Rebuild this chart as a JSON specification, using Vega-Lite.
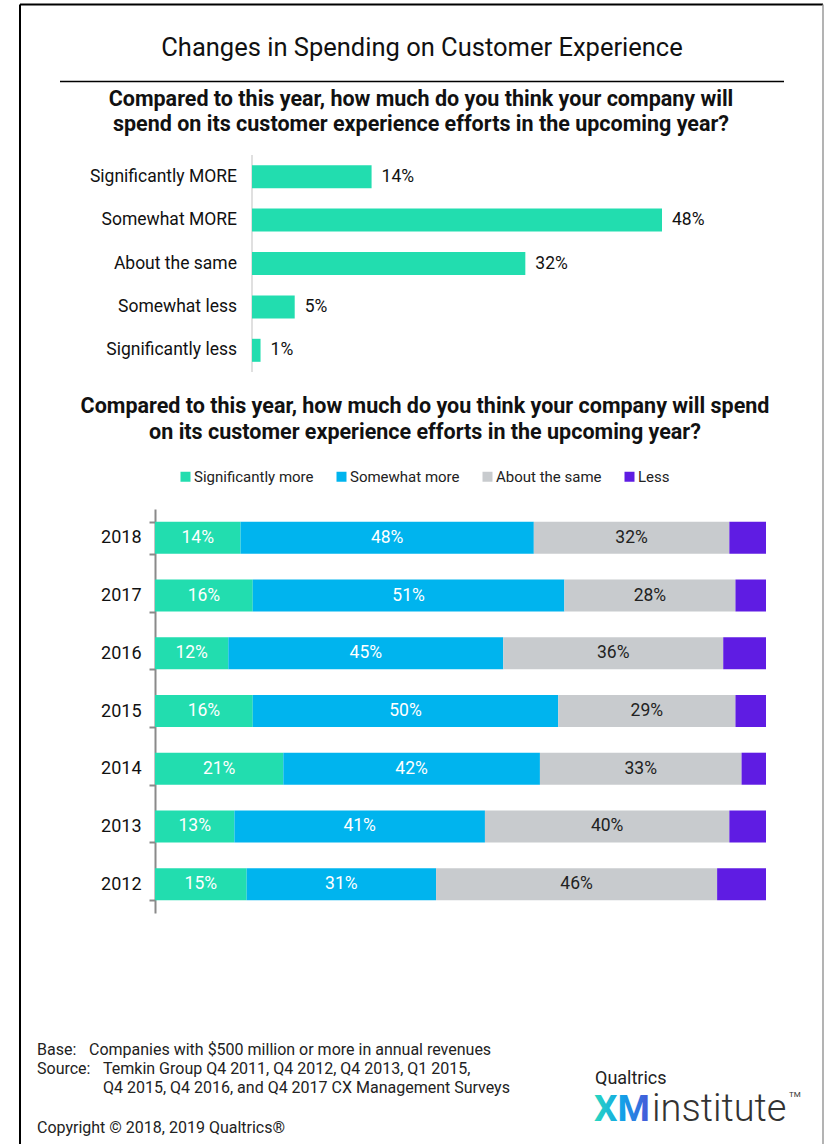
{
  "$schema": "https://vega.github.io/schema/vega-lite/v6.json",
  "autosize": {"type": "pad"},
  "padding": {"left": 19, "top": 0, "right": 1, "bottom": 0},
  "background": "white",
  "bounds": "flush",
  "spacing": 137,
  "config": {"view": {"stroke": null}, "font": "Roboto"},
  "vconcat": [
    {
      "width": 611,
      "height": 18,
      "data": {"values": [{}]},
      "layer": [
        {
          "mark": {"type": "rule", "stroke": "#000", "strokeWidth": 2},
          "encoding": {
            "x": {"datum": 20, "type": "quantitative", "scale": {"domain": [155, 766], "nice": false, "zero": false}, "axis": null},
            "y": {"datum": 4.5, "type": "quantitative", "scale": {"domain": [0, 18], "reverse": true, "nice": false, "zero": false}, "axis": null},
            "y2": {"datum": 1144}
          }
        },
        {
          "mark": {"type": "rule", "stroke": "#000", "strokeWidth": 2},
          "encoding": {
            "x": {"datum": 20, "type": "quantitative"},
            "x2": {"datum": 823},
            "y": {"datum": 4.5, "type": "quantitative"}
          }
        },
        {
          "mark": {"type": "rule", "stroke": "#9a9a9a", "strokeWidth": 1.5},
          "encoding": {
            "x": {"datum": 823, "type": "quantitative"},
            "y": {"datum": 4.5, "type": "quantitative"},
            "y2": {"datum": 1144}
          }
        },
        {
          "mark": {"type": "rule", "stroke": "#000", "strokeWidth": 1.5},
          "encoding": {
            "x": {"datum": 60, "type": "quantitative"},
            "x2": {"datum": 784},
            "y": {"datum": 81.5, "type": "quantitative"}
          }
        },
        {
          "mark": {"type": "text", "text": "Changes in Spending on Customer Experience", "fontSize": 25.5, "align": "center", "baseline": "middle", "color": "#111"},
          "encoding": {"x": {"datum": 422, "type": "quantitative"}, "y": {"datum": 48, "type": "quantitative"}}
        },
        {
          "mark": {"type": "text", "text": ["Compared to this year, how much do you think your company will", "spend on its customer experience efforts in the upcoming year?"], "fontSize": 21.5, "fontWeight": "bold", "lineHeight": 25.5, "align": "center", "baseline": "middle", "color": "#111"},
          "encoding": {"x": {"datum": 421, "type": "quantitative"}, "y": {"datum": 99.5, "type": "quantitative"}}
        },
        {
          "mark": {"type": "text", "text": ["Compared to this year, how much do you think your company will spend", "on its customer experience efforts in the upcoming year?"], "fontSize": 21.5, "fontWeight": "bold", "lineHeight": 26, "align": "center", "baseline": "middle", "color": "#111"},
          "encoding": {"x": {"datum": 425, "type": "quantitative"}, "y": {"datum": 407, "type": "quantitative"}}
        },
        {
          "mark": {"type": "text", "text": "Base:", "fontSize": 16, "align": "left", "baseline": "middle", "color": "#222"},
          "encoding": {"x": {"datum": 37, "type": "quantitative"}, "y": {"datum": 1050, "type": "quantitative"}}
        },
        {
          "mark": {"type": "text", "text": "Companies with $500 million or more in annual revenues", "fontSize": 16, "align": "left", "baseline": "middle", "color": "#222"},
          "encoding": {"x": {"datum": 89, "type": "quantitative"}, "y": {"datum": 1050, "type": "quantitative"}}
        },
        {
          "mark": {"type": "text", "text": "Source:", "fontSize": 16, "align": "left", "baseline": "middle", "color": "#222"},
          "encoding": {"x": {"datum": 37, "type": "quantitative"}, "y": {"datum": 1069, "type": "quantitative"}}
        },
        {
          "mark": {"type": "text", "text": ["Temkin Group Q4 2011, Q4 2012, Q4 2013, Q1 2015,", "Q4 2015, Q4 2016, and Q4 2017 CX Management Surveys"], "fontSize": 16, "lineHeight": 19, "align": "left", "baseline": "middle", "color": "#222"},
          "encoding": {"x": {"datum": 103, "type": "quantitative"}, "y": {"datum": 1069, "type": "quantitative"}}
        },
        {
          "mark": {"type": "text", "text": "Copyright © 2018, 2019 Qualtrics®", "fontSize": 16, "align": "left", "baseline": "middle", "color": "#222"},
          "encoding": {"x": {"datum": 37, "type": "quantitative"}, "y": {"datum": 1128, "type": "quantitative"}}
        },
        {
          "mark": {"type": "text", "text": "Qualtrics", "fontSize": 18, "align": "left", "baseline": "middle", "color": "#222"},
          "encoding": {"x": {"datum": 595, "type": "quantitative"}, "y": {"datum": 1079, "type": "quantitative"}}
        },
        {
          "mark": {"type": "text", "text": "XM", "fontSize": 37, "fontWeight": "bold", "align": "left", "baseline": "alphabetic",
                   "color": {"gradient": "linear", "stops": [{"offset": 0, "color": "#2ad8bf"}, {"offset": 0.5, "color": "#12a3e8"}, {"offset": 1, "color": "#4a52d8"}]}},
          "encoding": {"x": {"datum": 594, "type": "quantitative"}, "y": {"datum": 1121, "type": "quantitative"}}
        },
        {
          "mark": {"type": "text", "text": "institute", "fontSize": 38, "fontWeight": 300, "align": "left", "baseline": "alphabetic", "color": "#333"},
          "encoding": {"x": {"datum": 652, "type": "quantitative"}, "y": {"datum": 1121, "type": "quantitative"}}
        },
        {
          "mark": {"type": "text", "text": "TM", "fontSize": 8, "align": "left", "baseline": "middle", "color": "#333"},
          "encoding": {"x": {"datum": 789, "type": "quantitative"}, "y": {"datum": 1095, "type": "quantitative"}}
        }
      ]
    },
    {
      "width": 611,
      "height": 217,
      "data": {"values": [
        {"response": "Significantly MORE", "pct": 0.14},
        {"response": "Somewhat MORE", "pct": 0.48},
        {"response": "About the same", "pct": 0.32},
        {"response": "Somewhat less", "pct": 0.05},
        {"response": "Significantly less", "pct": 0.01}
      ]},
      "layer": [
        {
          "data": {"values": [{}]},
          "mark": {"type": "rule", "stroke": "#d6d6d6", "strokeWidth": 1.5},
          "encoding": {
            "x": {"datum": 0, "type": "quantitative", "scale": {"domain": [-0.11356, 0.60176], "nice": false, "zero": false}, "axis": null}
          }
        },
        {
          "mark": {"type": "bar", "color": "#22ddaf"},
          "encoding": {
            "y": {"field": "response", "type": "nominal", "sort": null, "scale": {"paddingInner": 0.47, "paddingOuter": 0.235}, "axis": null},
            "x": {"field": "pct", "type": "quantitative"},
            "x2": {"datum": 0}
          }
        },
        {
          "mark": {"type": "text", "align": "left", "baseline": "middle", "dx": 10, "fontSize": 17.5, "color": "#111"},
          "encoding": {
            "y": {"field": "response", "type": "nominal", "sort": null},
            "x": {"field": "pct", "type": "quantitative"},
            "text": {"field": "pct", "type": "quantitative", "format": ".0%"}
          }
        },
        {
          "mark": {"type": "text", "align": "right", "baseline": "middle", "dx": -15, "fontSize": 17.5, "color": "#111"},
          "encoding": {
            "y": {"field": "response", "type": "nominal", "sort": null},
            "x": {"datum": 0, "type": "quantitative"},
            "text": {"field": "response", "type": "nominal"}
          }
        }
      ]
    },
    {
      "width": 611,
      "height": 404,
      "data": {"values": [
        {"year": "2018", "answer": "Significantly more", "share": 0.14},
        {"year": "2018", "answer": "Somewhat more", "share": 0.48},
        {"year": "2018", "answer": "About the same", "share": 0.32},
        {"year": "2018", "answer": "Less", "share": 0.06},
        {"year": "2017", "answer": "Significantly more", "share": 0.16},
        {"year": "2017", "answer": "Somewhat more", "share": 0.51},
        {"year": "2017", "answer": "About the same", "share": 0.28},
        {"year": "2017", "answer": "Less", "share": 0.05},
        {"year": "2016", "answer": "Significantly more", "share": 0.12},
        {"year": "2016", "answer": "Somewhat more", "share": 0.45},
        {"year": "2016", "answer": "About the same", "share": 0.36},
        {"year": "2016", "answer": "Less", "share": 0.07},
        {"year": "2015", "answer": "Significantly more", "share": 0.16},
        {"year": "2015", "answer": "Somewhat more", "share": 0.50},
        {"year": "2015", "answer": "About the same", "share": 0.29},
        {"year": "2015", "answer": "Less", "share": 0.05},
        {"year": "2014", "answer": "Significantly more", "share": 0.21},
        {"year": "2014", "answer": "Somewhat more", "share": 0.42},
        {"year": "2014", "answer": "About the same", "share": 0.33},
        {"year": "2014", "answer": "Less", "share": 0.04},
        {"year": "2013", "answer": "Significantly more", "share": 0.13},
        {"year": "2013", "answer": "Somewhat more", "share": 0.41},
        {"year": "2013", "answer": "About the same", "share": 0.40},
        {"year": "2013", "answer": "Less", "share": 0.06},
        {"year": "2012", "answer": "Significantly more", "share": 0.15},
        {"year": "2012", "answer": "Somewhat more", "share": 0.31},
        {"year": "2012", "answer": "About the same", "share": 0.46},
        {"year": "2012", "answer": "Less", "share": 0.08}
      ]},
      "transform": [
        {"lookup": "answer", "from": {"data": {"values": [
          {"answer": "Significantly more", "rank": 1},
          {"answer": "Somewhat more", "rank": 2},
          {"answer": "About the same", "rank": 3},
          {"answer": "Less", "rank": 4}
        ]}, "key": "answer", "fields": ["rank"]}}
      ],
      "encoding": {
        "y": {"field": "year", "type": "ordinal", "sort": "descending",
              "scale": {"paddingInner": 0.445, "paddingOuter": 0.2225},
              "axis": {"title": null, "domainColor": "#8a8a8a", "domainWidth": 2, "tickColor": "#8a8a8a", "tickWidth": 2, "tickSize": 6, "tickBand": "extent", "labelFontSize": 18, "labelColor": "#111", "labelPadding": 8, "labelFont": "Roboto"}}
      },
      "layer": [
        {
          "mark": {"type": "bar"},
          "encoding": {
            "x": {"field": "share", "type": "quantitative", "stack": "zero", "scale": {"domain": [0, 1], "nice": false}, "axis": null},
            "order": {"field": "rank", "type": "quantitative", "sort": "ascending"},
            "color": {"field": "answer", "type": "nominal",
                      "sort": ["Significantly more", "Somewhat more", "About the same", "Less"],
                      "scale": {"domain": ["Significantly more", "Somewhat more", "About the same", "Less"], "range": ["#22ddaf", "#00b4ee", "#c8cbce", "#5f1ce3"]},
                      "legend": {"orient": "none", "legendX": 23, "legendY": -40, "direction": "horizontal", "title": null, "symbolType": "square", "symbolSize": 100, "symbolStrokeWidth": 0, "labelFontSize": 15, "labelOffset": 1, "columnPadding": 20, "labelColor": "#222", "labelFont": "Roboto"}}
          }
        },
        {
          "transform": [{"filter": "datum.answer != 'Less'"}],
          "mark": {"type": "text", "fontSize": 17.5, "baseline": "middle", "align": "center"},
          "encoding": {
            "x": {"field": "share", "type": "quantitative", "stack": "zero", "bandPosition": 0.5},
            "order": {"field": "rank", "type": "quantitative", "sort": "ascending"},
            "color": {"field": "answer", "type": "nominal",
                      "sort": ["Significantly more", "Somewhat more", "About the same", "Less"],
                      "scale": {"domain": ["Significantly more", "Somewhat more", "About the same", "Less"], "range": ["#ffffff", "#ffffff", "#222222", "#ffffff"]},
                      "legend": null},
            "text": {"field": "share", "type": "quantitative", "format": ".0%"}
          }
        }
      ],
      "resolve": {"scale": {"color": "independent"}}
    }
  ]
}
